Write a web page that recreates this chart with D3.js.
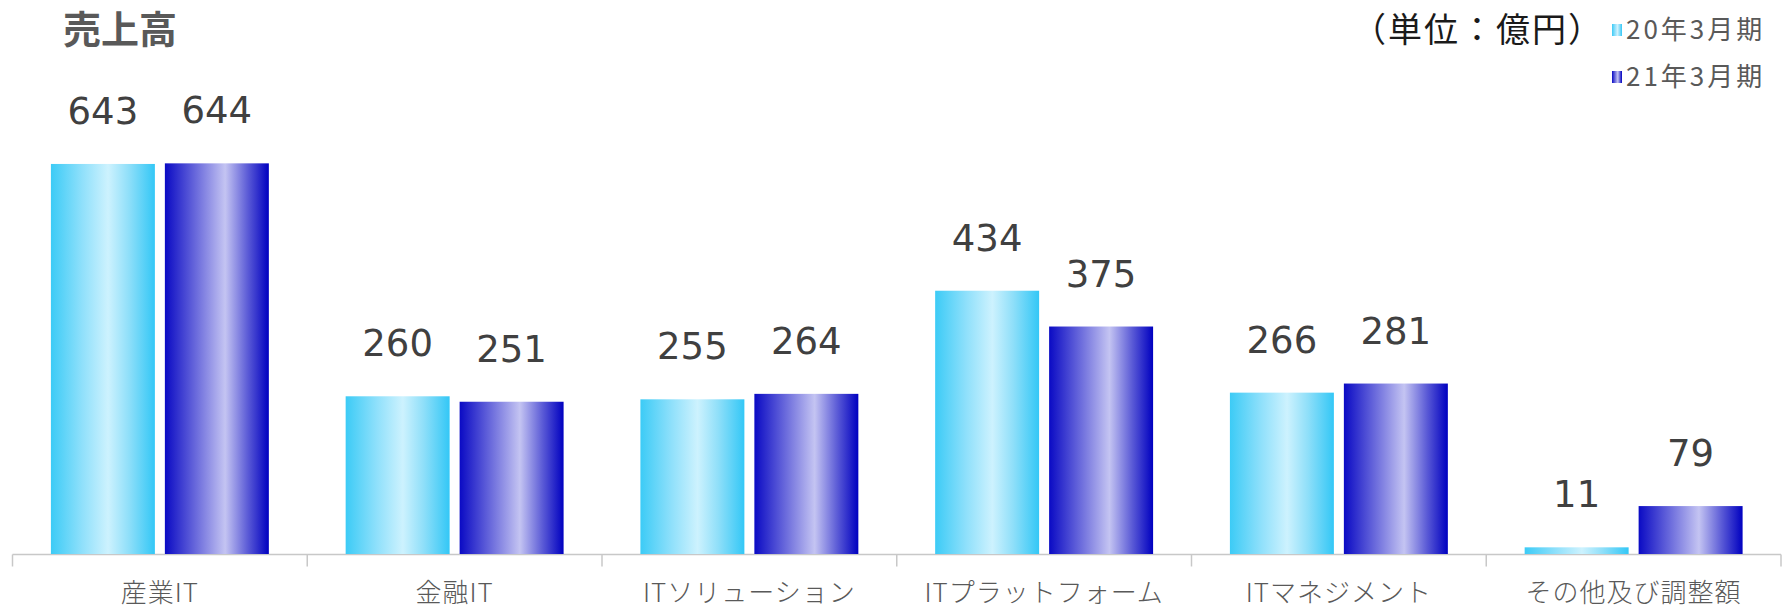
<!DOCTYPE html>
<html lang="ja">
<head>
<meta charset="utf-8">
<script src="https://cdn.jsdelivr.net/npm/d3@7"></script>
<style>
  html, body { margin: 0; padding: 0; background: #ffffff; }
  svg { display: block; }
</style>
</head>
<body>
<svg id="chart" width="1787" height="611"></svg>
<script>
// Segment sales (億円), fiscal years ending March 2020 and March 2021
const categories = ["産業IT", "金融IT", "ITソリューション", "ITプラットフォーム", "ITマネジメント", "その他及び調整額"];
const seriesNames = ["20年3月期", "21年3月期"];
const sales2020 = [643, 260, 255, 434, 266, 11];
const sales2021 = [644, 251, 264, 375, 281, 79];
const seriesValues = [sales2020, sales2021];

const title = "売上高";
const unitLabel = "（単位：億円）";

const svg = d3.select("#chart");

const baseline = 554;
const x0 = d3.scaleBand().domain(categories).range([12.5, 1781]).paddingInner(0).paddingOuter(0);
const x1 = d3.scaleBand().domain(seriesNames).range([0, x0.bandwidth()]).paddingInner(0.0877).paddingOuter(0.337);
const y = d3.scaleLinear().domain([0, 700]).range([baseline, baseline - 700 * 0.6066]);

// Horizontal gradients giving the bars a cylindrical sheen
const defs = svg.append("defs");
const gradStops = [
  [ ["0%", "#3ccbf6"], ["30%", "#8fe0fb"], ["55%", "#cdf2fe"], ["75%", "#8fdff9"], ["100%", "#33c7f6"] ],
  [ ["0%", "#0a0ac4"], ["30%", "#6a6adc"], ["58%", "#c4c4f2"], ["80%", "#5a5ad6"], ["100%", "#0000c0"] ]
];
seriesNames.forEach((s, i) => {
  const g = defs.append("linearGradient").attr("id", "grad" + i)
    .attr("x1", "0%").attr("x2", "100%").attr("y1", "0%").attr("y2", "0%");
  gradStops[i].forEach(([o, c]) => g.append("stop").attr("offset", o).attr("stop-color", c));
});

// Category axis: baseline with separator ticks between groups
const axisG = svg.append("g").attr("transform", `translate(0,${baseline + 0.5})`);
axisG.append("line")
  .attr("x1", x0.range()[0]).attr("x2", x0.range()[1])
  .attr("stroke", "#c8c8c8").attr("stroke-width", 1.5);
const boundaries = categories.map(c => x0(c)).concat([x0.range()[1]]);
axisG.selectAll("line.sep").data(boundaries).join("line")
  .attr("class", "sep")
  .attr("x1", d => d).attr("x2", d => d)
  .attr("y1", 0).attr("y2", 12)
  .attr("stroke", "#c8c8c8").attr("stroke-width", 1.5);

// Category labels
svg.append("g").selectAll("text").data(categories).join("text")
  .attr("x", d => x0(d) + x0.bandwidth() / 2)
  .attr("y", 602)
  .attr("text-anchor", "middle")
  .attr("font-family", "'Noto Sans CJK JP', 'Noto Sans', sans-serif")
  .attr("font-weight", 300)
  .attr("font-size", 26)
  .attr("letter-spacing", 1)
  .attr("fill", "#595959")
  .text(d => d);

// Bars
const groups = svg.append("g").selectAll("g").data(categories).join("g")
  .attr("transform", d => `translate(${x0(d)},0)`);

const cells = (d, ci) => seriesNames.map((s, si) => ({ s, si, v: seriesValues[si][ci] }));

groups.selectAll("rect").data(cells)
  .join("rect")
  .attr("x", d => x1(d.s))
  .attr("width", x1.bandwidth())
  .attr("y", d => y(d.v))
  .attr("height", d => baseline - y(d.v))
  .attr("fill", d => `url(#grad${d.si})`);

// Value labels above bars
groups.selectAll("text").data(cells)
  .join("text")
  .attr("x", d => x1(d.s) + x1.bandwidth() / 2)
  .attr("y", d => y(d.v) - 40)
  .attr("text-anchor", "middle")
  .attr("font-family", "'DejaVu Sans', sans-serif")
  .attr("font-size", 37)
  .attr("fill", "#404040")
  .text(d => d.v);

// Title
svg.append("text")
  .attr("x", 63).attr("y", 43)
  .attr("font-family", "'Noto Sans CJK JP', sans-serif")
  .attr("font-weight", 700)
  .attr("font-size", 38)
  .attr("fill", "#595959")
  .text(title);

// Unit note
svg.append("text")
  .attr("x", 1352).attr("y", 42)
  .attr("font-family", "'Noto Sans CJK JP', sans-serif")
  .attr("font-size", 34)
  .attr("letter-spacing", 2)
  .attr("fill", "#1a1a1a")
  .text(unitLabel);

// Legend
const legend = svg.append("g").attr("transform", "translate(1612,0)");
const legendY = [30, 77];
seriesNames.forEach((s, i) => {
  legend.append("rect")
    .attr("x", 0).attr("y", legendY[i] - 6)
    .attr("width", 10).attr("height", 12)
    .attr("fill", `url(#grad${i})`);
  legend.append("text")
    .attr("x", 14).attr("y", legendY[i] + 9)
    .attr("font-family", "'Noto Sans CJK JP', sans-serif")
    .attr("font-size", 26)
    .attr("letter-spacing", 3)
    .attr("fill", "#595959")
    .text(s);
});
</script>
</body>
</html>
